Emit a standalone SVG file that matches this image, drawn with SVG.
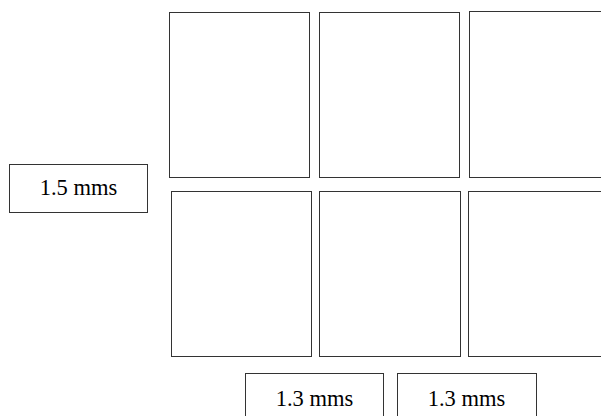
<svg xmlns="http://www.w3.org/2000/svg" width="601" height="416" viewBox="0 0 601 416">
<style>
.b{fill:#fff;stroke:#333;stroke-width:1}
.t{font-family:"Liberation Serif","Times New Roman",serif;font-size:22.5px;fill:#000;text-anchor:middle}
</style>
<rect width="601" height="416" fill="#fff"/>
<g id="cell-1-1"><rect class="b" x="169.5" y="12.5" width="140" height="165"/></g>
<g id="cell-1-2"><rect class="b" x="319.5" y="12.5" width="140" height="165"/></g>
<g id="cell-1-3"><rect class="b" x="469.5" y="11.5" width="140" height="166"/></g>
<g id="cell-2-1"><rect class="b" x="171.5" y="191.5" width="140" height="165"/></g>
<g id="cell-2-2"><rect class="b" x="319.5" y="191.5" width="141" height="165"/></g>
<g id="cell-2-3"><rect class="b" x="468.5" y="191.5" width="140" height="165"/></g>
<g id="label-left"><rect class="b" x="9.5" y="164.5" width="138" height="48"/><text class="t" x="78.5" y="195">1.5 mms</text></g>
<g id="label-bottom-1"><rect class="b" x="245.5" y="373.5" width="138" height="48"/><text class="t" x="314.5" y="406">1.3 mms</text></g>
<g id="label-bottom-2"><rect class="b" x="397.5" y="373.5" width="139" height="48"/><text class="t" x="466.5" y="406">1.3 mms</text></g>
<g id="connectors"></g>
</svg>
